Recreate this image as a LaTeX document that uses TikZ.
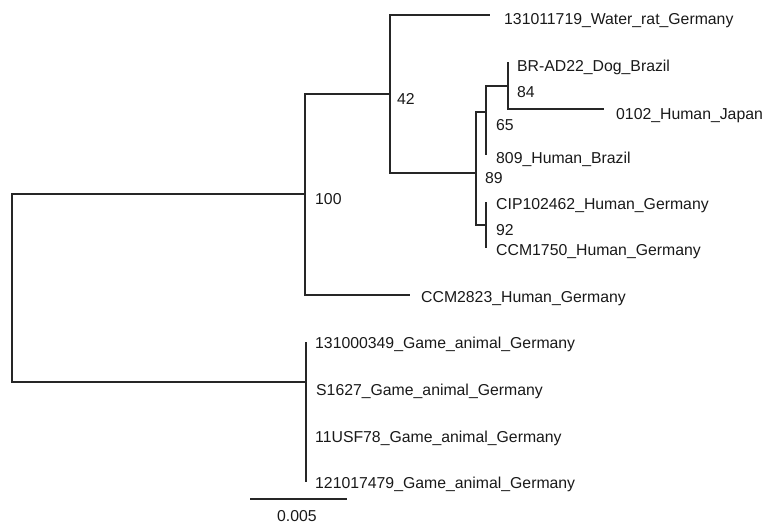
\documentclass[tikz,border=0pt]{standalone}
\usepackage{fontspec}
\setmainfont{Liberation Sans}
\begin{document}
\begin{tikzpicture}[x=1pt,y=-1pt,
  branch/.style={line width=1.2pt, draw=black!85},
  lab/.style={anchor=base west, inner sep=0pt, font=\fontsize{15.8}{18}\selectfont, text=black!90}]
\useasboundingbox (0,0) rectangle (764,525);
% internal nodes
\coordinate (root) at (12,288);
\coordinate (n100) at (305,194);
\coordinate (n42) at (390,94);
\coordinate (n89) at (476,173);
\coordinate (n65) at (486,112);
\coordinate (n84) at (508,86);
\coordinate (n92) at (486,225);
\coordinate (game) at (306,382);
% tips
\coordinate (tWR) at (490,15);
\coordinate (tBR) at (508,62);
\coordinate (tJP) at (604,109);
\coordinate (t809) at (486,155);
\coordinate (tCIP) at (486,202);
\coordinate (tC1750) at (486,248);
\coordinate (tC2823) at (410,295);
\coordinate (tG1) at (306,342);
\coordinate (tG2) at (306,388.7);
\coordinate (tG3) at (306,435.3);
\coordinate (tG4) at (306,482);
% branches
\draw[branch] (root) |- (n100);
\draw[branch] (root) |- (game);
\draw[branch] (n100) |- (n42);
\draw[branch] (n100) |- (tC2823);
\draw[branch] (n42) |- (tWR);
\draw[branch] (n42) |- (n89);
\draw[branch] (n89) |- (n65);
\draw[branch] (n89) |- (n92);
\draw[branch] (n65) |- (n84);
\draw[branch] (n65) |- (t809);
\draw[branch] (n84) |- (tBR);
\draw[branch] (n84) |- (tJP);
\draw[branch] (n92) |- (tCIP);
\draw[branch] (n92) |- (tC1750);
\draw[branch] (game) |- (tG1);
\draw[branch] (game) |- (tG4);
% leaf labels
\node[lab] (lWR) at (504,24) {131011719\_Water\_rat\_Germany};
\node[lab] (lBR) at (517,71) {BR-AD22\_Dog\_Brazil};
\node[lab] (lJP) at (616,119) {0102\_Human\_Japan};
\node[lab] (l809) at (496,163) {809\_Human\_Brazil};
\node[lab] (lCIP) at (496,209) {CIP102462\_Human\_Germany};
\node[lab] (lC1750) at (496,255) {CCM1750\_Human\_Germany};
\node[lab] (lC2823) at (421,302) {CCM2823\_Human\_Germany};
\node[lab] (lG1) at (315,348) {131000349\_Game\_animal\_Germany};
\node[lab] (lG2) at (316,395) {S1627\_Game\_animal\_Germany};
\node[lab] (lG3) at (315,442) {11USF78\_Game\_animal\_Germany};
\node[lab] (lG4) at (315,488) {121017479\_Game\_animal\_Germany};
% bootstrap values
\node[lab] (b42) at (397,104) {42};
\node[lab] (b100) at (315,204) {100};
\node[lab] (b84) at (517,97) {84};
\node[lab] (b65) at (496,130) {65};
\node[lab] (b89) at (485,183) {89};
\node[lab] (b92) at (496,235) {92};
% scale bar
\coordinate (sbL) at (250,499);
\coordinate (sbR) at (347,499);
\draw[branch] (sbL) -- (sbR);
\node[lab] (sbt) at (277,521) {0.005};
\end{tikzpicture}
\end{document}
